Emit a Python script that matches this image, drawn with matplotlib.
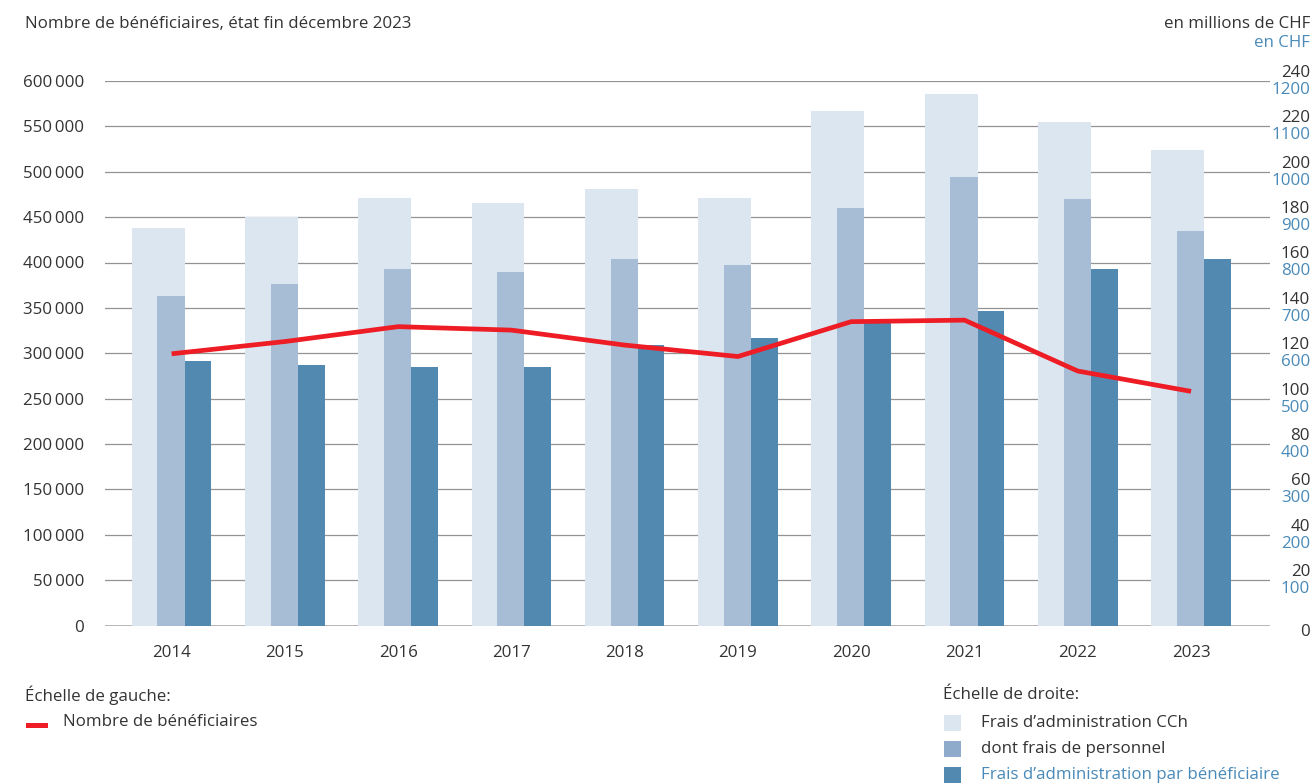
import matplotlib
matplotlib.use("Agg")
import matplotlib.pyplot as plt
from matplotlib import transforms
from matplotlib.patches import Rectangle

# ---- data ----
years = ["2014", "2015", "2016", "2017", "2018", "2019", "2020", "2021", "2022", "2023"]
frais_admin = [175.4, 180.1, 188.4, 186.2, 192.4, 188.4, 226.8, 234.3, 221.9, 209.6]   # millions CHF
frais_personnel = [145.2, 150.6, 157.2, 155.8, 161.6, 158.9, 184.0, 197.7, 188.1, 173.9]  # millions CHF
frais_par_benef = [583, 574, 570, 570, 618, 633, 666, 693, 786, 808]  # CHF
beneficiaires = [299400, 312900, 329300, 325500, 309000, 296400, 334800, 336500, 280400, 258000]

left_ticks = [0, 50000, 100000, 150000, 200000, 250000, 300000, 350000, 400000, 450000, 500000, 550000, 600000]
right_ticks_mchf = [0, 20, 40, 60, 80, 100, 120, 140, 160, 180, 200, 220, 240]
right_ticks_chf = [100, 200, 300, 400, 500, 600, 700, 800, 900, 1000, 1100, 1200]

C_LIGHT = "#dce6f0"
C_MED = "#a7bdd5"
C_DARK = "#5289b0"
C_RED = "#ee1c25"
C_TEXT = "#333333"
C_BLUE_TXT = "#4a8ab8"
FONT = ["Open Sans", "DejaVu Sans"]
FS = 12.2

plt.rcParams["font.family"] = FONT

W, H = 1312, 783
fig = plt.figure(figsize=(W / 100, H / 100), dpi=100)
ax_l, ax_r, ax_t, ax_b = 105, 1270, 81, 625.5
ax = fig.add_axes([ax_l / W, (H - ax_b) / H, (ax_r - ax_l) / W, (ax_b - ax_t) / H])

ax.set_ylim(0, 600000)
ax.set_xlim(-0.588, 9.697)

# secondary scales
ax2 = ax.twinx()
ax2.set_ylim(0, 240)
ax3 = ax.twinx()
ax3.set_ylim(0, 1200)
for a in (ax2, ax3):
    a.set_yticks([])
    for s in a.spines.values():
        s.set_visible(False)
    a.set_xlim(ax.get_xlim())

x = list(range(len(years)))
# gridlines
for v in left_ticks[1:]:
    ax.axhline(v, color="#939393", lw=0.9, zorder=0)
ax.axhline(0, color="#b0b0b0", lw=2.0, zorder=5)

# bars
ax2.bar([i - 0.118 for i in x], frais_admin, width=0.466, color=C_LIGHT, zorder=1)
ax2.bar([i - 0.005 for i in x], frais_personnel, width=0.24, color=C_MED, zorder=2)
ax3.bar([i + 0.233 for i in x], frais_par_benef, width=0.236, color=C_DARK, zorder=3)
ax2.set_zorder(1)
ax3.set_zorder(2)
# red line on top
ax4 = ax.twinx()
ax4.set_ylim(0, 600000)
ax4.set_yticks([])
for s in ax4.spines.values():
    s.set_visible(False)
ax4.set_zorder(3)
ax4.set_xlim(ax.get_xlim())
ax4.plot(x, beneficiaires, color=C_RED, lw=3.4, solid_capstyle="butt", solid_joinstyle="miter")
for a in (ax2, ax3, ax4):
    a.patch.set_visible(False)

# axes styling
for s in ax.spines.values():
    s.set_visible(False)
ax.set_yticks(left_ticks)
ax.set_yticklabels([f"{v:,}".replace(",", "\u2009") for v in left_ticks], fontsize=FS, color=C_TEXT)
ax.tick_params(axis="y", length=0, pad=15)
ax.set_xticks(x)
ax.set_xticklabels(years, fontsize=FS, color=C_TEXT)
ax.tick_params(axis="x", length=0, pad=14)

# right-side labels
bt = transforms.blended_transform_factory(fig.transFigure, ax2.transData)
xr = 1310 / W
for v in right_ticks_mchf:
    dy = 8 if v != 0 else -6
    tr = transforms.offset_copy(bt, fig=fig, x=0, y=dy, units="dots")
    fig.text(xr, v, str(v), transform=tr, ha="right", va="center", fontsize=FS, color=C_TEXT)
bt3 = transforms.blended_transform_factory(fig.transFigure, ax3.transData)
for v in right_ticks_chf:
    tr = transforms.offset_copy(bt3, fig=fig, x=0, y=-9, units="dots")
    fig.text(xr, v, str(v), transform=tr, ha="right", va="center", fontsize=FS, color=C_BLUE_TXT)

# titles
def fx(px):
    return px / W
def fy(py):
    return 1 - py / H

fig.text(fx(25), fy(24), "Nombre de bénéficiaires, état fin décembre 2023", ha="left", va="center",
         fontsize=FS, color=C_TEXT)
fig.text(fx(1310), fy(24), "en millions de CHF", ha="right", va="center", fontsize=FS, color=C_TEXT)
fig.text(fx(1310), fy(43), "en CHF", ha="right", va="center", fontsize=FS, color=C_BLUE_TXT)

# legend
fig.text(fx(25), fy(695), "Échelle de gauche:", ha="left", va="center", fontsize=FS, color=C_TEXT)
fig.add_artist(Rectangle((fx(26), fy(728)), 22 / W, 5 / H, transform=fig.transFigure,
                         facecolor=C_RED, edgecolor="none"))
fig.text(fx(63), fy(722), "Nombre de bénéficiaires", ha="left", va="center", fontsize=FS, color=C_TEXT)

fig.text(fx(943), fy(695), "Échelle de droite:", ha="left", va="center", fontsize=FS, color=C_TEXT)
leg_items = [("Frais d\u2019administration CCh", C_LIGHT, C_TEXT, 723),
             ("dont frais de personnel", "#8eabcb", C_TEXT, 749),
             ("Frais d\u2019administration par bénéficiaire", C_DARK, C_BLUE_TXT, 775)]
for label, col, tcol, yy in leg_items:
    fig.add_artist(Rectangle((fx(944), fy(yy + 8)), 17 / W, 16 / H, transform=fig.transFigure,
                             facecolor=col, edgecolor="none"))
    fig.text(fx(981), fy(yy), label, ha="left", va="center", fontsize=FS, color=tcol)

fig.savefig("out.png", dpi=100)
